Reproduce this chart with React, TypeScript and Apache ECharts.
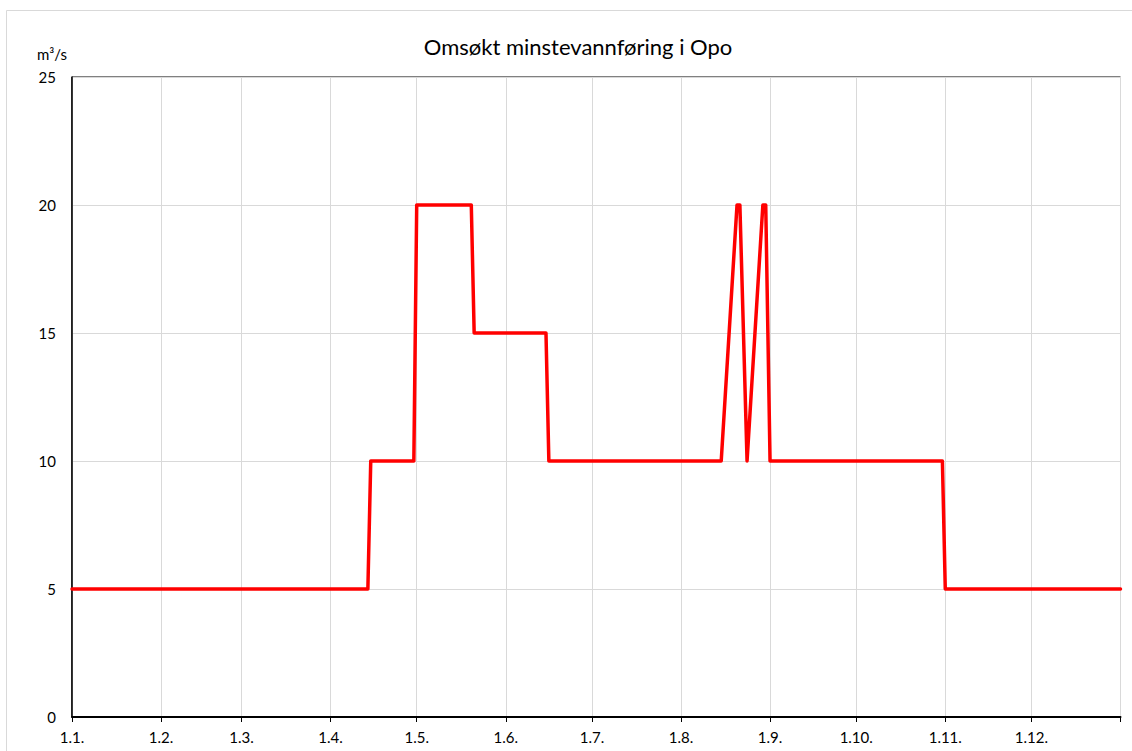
import React, { useEffect, useRef } from "react";
import * as echarts from "echarts";

// Day of year (0 = 1 January) at which each month starts, and their labels
const monthStartDays = [0, 31, 59, 90, 120, 151, 181, 212, 243, 273, 304, 334];
const monthLabels = ["1.1.", "1.2.", "1.3.", "1.4.", "1.5.", "1.6.", "1.7.", "1.8.", "1.9.", "1.10.", "1.11.", "1.12."];
const yearEndDay = 365;

// Minimum flow points: day of year and m³/s
const flowDays = [0, 103, 104, 119, 120, 139, 140, 165, 166, 226, 231.5, 232.5, 235, 240.5, 241.5, 243, 303, 304, 365];
const flowValues = [5, 5, 10, 10, 20, 20, 15, 15, 10, 10, 20, 20, 10, 20, 20, 10, 10, 5, 5];

const TITLE = "Omsøkt minstevannføring i Opo";
const UNIT = "m³/s";

export default function App() {
  const ref = useRef<HTMLDivElement>(null);

  useEffect(() => {
    document.body.style.margin = "0";
    if (!ref.current) return;
    const chart = echarts.init(ref.current, null, { renderer: "svg" });
    const font = "Lato, 'Open Sans', sans-serif";
    const data = flowDays.map((d, i) => [d, flowValues[i]]);
    const tickDays = [...monthStartDays, yearEndDay];
    chart.setOption({
      animation: false,
      backgroundColor: "#ffffff",
      textStyle: { fontFamily: font },
      title: {
        text: TITLE,
        left: 573,
        textAlign: "center",
        top: 30,
        textStyle: { fontFamily: font, fontSize: 22, fontWeight: "normal", color: "#000" },
      },
      graphic: [
        {
          type: "rect",
          shape: { x: 6.5, y: 10.5, width: 1200, height: 900 },
          style: { fill: "none", stroke: "#d9d9d9", lineWidth: 1 },
          silent: true,
          z: -1,
        },
        {
          type: "text",
          left: 37,
          top: 46,
          style: { text: UNIT, fontFamily: font, fontSize: 15, fill: "#000" },
        },
      ],
      grid: {
        left: 72,
        top: 77,
        right: 11.5,
        bottom: 34,
        show: true,
        borderColor: "#000",
        borderWidth: 1,
        backgroundColor: "transparent",
      },
      xAxis: {
        type: "value",
        min: 0,
        max: yearEndDay,
        axisLine: { show: true, lineStyle: { color: "#000", width: 2 } },
        axisTick: {
          show: true,
          inside: false,
          length: 5,
          lineStyle: { color: "#000" },
          customValues: tickDays,
        },
        axisLabel: {
          customValues: monthStartDays,
          formatter: (v: number) => {
            const i = monthStartDays.indexOf(Math.round(v));
            return i >= 0 ? monthLabels[i] : "";
          },
          color: "#000",
          fontSize: 15,
          margin: 12,
          fontFamily: font,
        },
        splitLine: { show: true, lineStyle: { color: "#d9d9d9", width: 1 } },
      },
      yAxis: {
        type: "value",
        min: 0,
        max: 25,
        interval: 5,
        axisLine: { show: true, lineStyle: { color: "#000", width: 1.5 } },
        axisTick: { show: false },
        axisLabel: { color: "#000", fontSize: 15, margin: 16, fontFamily: font },
        splitLine: { show: true, lineStyle: { color: "#d9d9d9", width: 1 } },
      },
      series: [
        {
          type: "line",
          data,
          showSymbol: false,
          lineStyle: { color: "#ff0000", width: 3.5, join: "round", cap: "round" },
          itemStyle: { color: "#ff0000" },
          z: 5,
        },
      ],
    });
    return () => chart.dispose();
  }, []);

  return <div ref={ref} style={{ width: 1132, height: 751 }} />;
}
